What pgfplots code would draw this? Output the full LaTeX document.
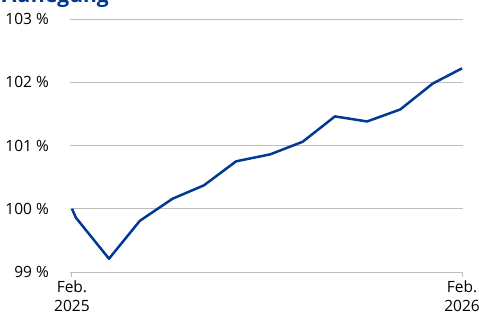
\documentclass[border=0pt]{standalone}
\usepackage{pgfplots}
\pgfplotsset{compat=1.18}
\usepackage{fontspec}
\setmainfont{Open Sans}
\definecolor{ubsblue}{RGB}{0,57,145}
\definecolor{gridgray}{RGB}{190,190,190}
\begin{document}
\begin{tikzpicture}
\useasboundingbox (0,0) rectangle (479bp,316bp);
\clip (0,0) rectangle (479bp,316bp);
\node[anchor=base west, inner sep=0pt, text=ubsblue, font=\bfseries\fontsize{21bp}{24bp}\selectfont] at (2bp,313bp) {Auflegung};
\begin{axis}[
  at={(70bp,44bp)}, anchor=south west,
  scale only axis, width=393bp, height=253bp,
  xmin=-0.06, xmax=12.03, ymin=99, ymax=103,
  axis x line=bottom, axis y line=left,
  x axis line style={draw=gridgray, line width=1pt, -},
  y axis line style={draw=none},
  ytick={99,100,101,102,103},
  yticklabels={99 \%,100 \%,101 \%,102 \%,103 \%},
  ytick style={draw=none},
  yticklabel style={anchor=east, inner sep=0pt, xshift=-16bp, font=\fontsize{15.5bp}{18bp}\selectfont},
  xtick={0,12},
  xticklabels={Feb.\\2025, Feb.\\2026},
  xticklabel style={align=center, inner sep=0pt, yshift=-4bp, font=\fontsize{15.5bp}{18.5bp}\selectfont},
  tick align=outside, major tick length=5bp,
  xtick style={draw=gridgray, line width=1pt},
  ymajorgrids, grid style={gridgray, line width=1pt},
  clip=false,
]
\addplot[ubsblue, line width=2.5pt, line join=round] coordinates {
(0,100.0) (0.12,99.86) (1.14,99.21) (2.09,99.81) (3.1,100.16) (4.06,100.37) (5.05,100.75) (6.1,100.86) (7.1,101.06) (8.09,101.46) (9.08,101.38) (10.1,101.57) (11.1,101.98) (12,102.22)
};
\end{axis}
\end{tikzpicture}
\end{document}
